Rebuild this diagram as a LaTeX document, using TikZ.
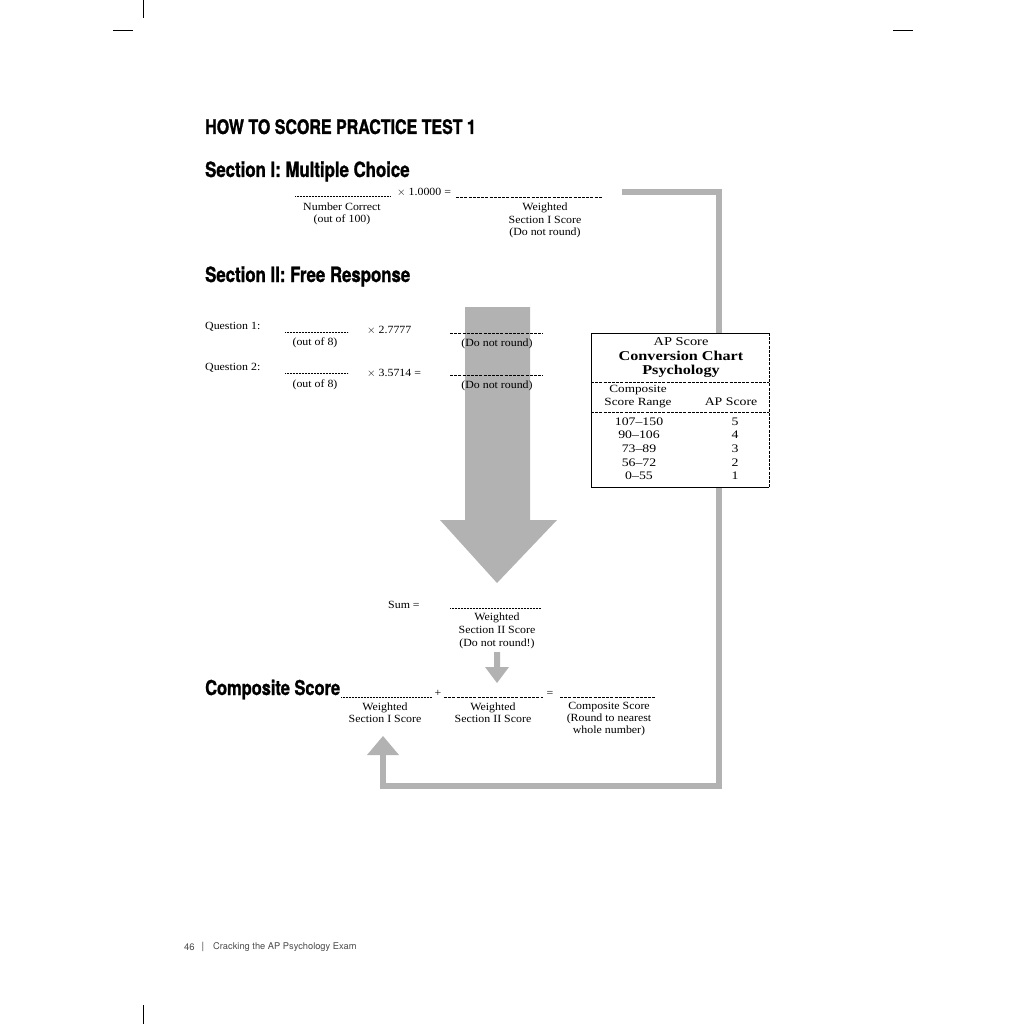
\documentclass[tikz,border=0pt]{standalone}
\usepackage{fontspec}
\setmainfont{Liberation Serif}[FakeStretch=1.08]
\newfontfamily\tablefont{Liberation Serif}[FakeStretch=1.2, Ligatures=TeX]
\newfontfamily\headfont{TeX Gyre Heros}[FakeStretch=0.80, FakeBold=1.2]
\newfontfamily\footfont{TeX Gyre Heros}
\begin{document}
\begin{tikzpicture}[x=1pt,y=-1pt,
  body/.style={font=\fontsize{11}{12}\selectfont, inner sep=0pt, align=center},
  bodyw/.style={body, anchor=west},
  tbody/.style={body, font=\tablefont\fontsize{11.5}{13.5}\selectfont},
  head/.style={font=\headfont\bfseries\fontsize{21}{24}\selectfont, inner sep=0pt, anchor=base west},
  leader/.style={line width=0.5pt, dash pattern=on 0.6pt off 0.9pt},
  blank/.style={line width=0.5pt, dash pattern=on 3pt off 1.2pt},
  crop/.style={line width=0.6pt}]
\useasboundingbox (0,0) rectangle (1024,1024);
\fill[white] (0,0) rectangle (1024,1024);

% crop marks
\draw[crop] (143,0) -- (143,18);
\draw[crop] (113,30) -- (133,30);
\draw[crop] (893,30) -- (913,30);
\draw[crop] (143,1005) -- (143,1024);

% headings
\node[head, font=\headfont\bfseries\fontsize{20}{24}\selectfont] (title) at (205,134) {HOW TO SCORE PRACTICE TEST 1};
\node[head] (sec1) at (205,177) {Section I: Multiple Choice};
\node[head] (sec2) at (205,282) {Section II: Free Response};
\node[head, font=\headfont\bfseries\fontsize{20.5}{24}\selectfont] (comp) at (205,695) {Composite Score};

% gray loop arrow (Section I score -> composite)
\coordinate (loopStart) at (622,192);
\coordinate (loopNE) at (719,192);
\coordinate (loopSE) at (719,786);
\coordinate (loopSW) at (383,786);
\coordinate (loopEnd) at (383,754);
\draw[line width=5.5pt, draw=black!30, line join=miter] (loopStart) -- (loopNE) -- (loopSE) -- (loopSW) -- (loopEnd);
\fill[black!30] (367,755) -- (399,755) -- (383,736) -- cycle;

% big down arrow
\fill[black!30] (465,307) -- (530,307) -- (530,520) -- (557,520) -- (497,583) -- (440,520) -- (465,520) -- cycle;

% small down arrow
\fill[black!30] (494,652) -- (500,652) -- (500,667) -- (509,667) -- (497,683) -- (485,667) -- (494,667) -- cycle;

% Section I
\coordinate (a1) at (295,196); \coordinate (a2) at (390,196);
\draw[leader] (a1) -- (a2);
\node[bodyw] (m1) at (397,192) {$\times$ 1.0000 =};
\coordinate (b1) at (456,197); \coordinate (b2) at (602,197);
\draw[blank] (b1) -- (b2);
\node[body] (nc) at (342,213.5) {Number Correct\\(out of 100)};
\node[body, font=\fontsize{11}{12.8}\selectfont] (w1) at (545,220.5) {Weighted\\Section I Score\\(Do not round)};

% Section II
\node[bodyw] (q1) at (205,327) {Question 1:};
\draw[leader] (285,332) -- (348,332);
\node[body] (o1) at (315,343) {(out of 8)};
\node[bodyw] (m2) at (367,330) {$\times$ 2.7777};
\draw[blank] (450,333) -- (543,333);
\node[body] (d1) at (497,344) {(Do not round)};

\node[bodyw] (q2) at (205,368) {Question 2:};
\draw[leader] (285,373) -- (348,373);
\node[body] (o2) at (315,385) {(out of 8)};
\node[bodyw] (m3) at (367,373) {$\times$ 3.5714 =};
\draw[blank] (450,375) -- (543,375);
\node[body] (d2) at (497,386) {(Do not round)};

\node[bodyw] (sum) at (388,605) {Sum =};
\draw[leader] (450,608) -- (541,608);
\node[body, font=\fontsize{11}{12.8}\selectfont] (w2) at (497,631) {Weighted\\Section II Score\\(Do not round!)};

% Composite
\draw[leader] (341,697) -- (432,697);
\node[body] (plus) at (438,693) {+};
\draw[blank] (444,697) -- (543,697);
\node[body] (eq) at (550,694) {=};
\draw[blank] (560,697) -- (656,697);
\node[body] (c1) at (385,713) {Weighted\\Section I Score};
\node[body] (c2) at (493,713) {Weighted\\Section II Score};
\node[body] (c3) at (609,719) {Composite Score\\(Round to nearest\\whole number)};

% Conversion table
\fill[white] (591,333) rectangle (769,487);
\draw[line width=0.6pt] (769,333) -- (591,333) -- (591,487) -- (769,487);
\draw[blank] (769,333) -- (769,487);
\draw[blank] (591,382) -- (769,382);
\draw[blank] (591,412) -- (769,412);
\node[tbody, font=\tablefont\fontsize{12}{13}\selectfont] (t1) at (681,342) {AP Score};
\node[tbody, font=\tablefont\bfseries\fontsize{13.5}{14}\selectfont] (t2) at (681,356) {Conversion Chart};
\node[tbody, font=\tablefont\bfseries\fontsize{13.5}{14}\selectfont] (t3) at (681,371) {Psychology};
\node[tbody, font=\tablefont\fontsize{11}{13}\selectfont] (h1) at (638,396.5) {Composite\\Score Range};
\node[tbody] (h2) at (731,402) {AP Score};
\node[tbody] (r1a) at (639,422) {107–150}; \node[tbody] (r1b) at (735,422) {5};
\node[tbody] (r2a) at (639,435) {90–106};  \node[tbody] (r2b) at (735,435) {4};
\node[tbody] (r3a) at (639,449) {73–89};   \node[tbody] (r3b) at (735,449) {3};
\node[tbody] (r4a) at (639,463) {56–72};   \node[tbody] (r4b) at (735,463) {2};
\node[tbody] (r5a) at (639,476) {0–55};    \node[tbody] (r5b) at (735,476) {1};

% footer
\node[inner sep=0pt, anchor=west, text=black!70, font=\footfont\fontsize{9.5}{10}\selectfont] (pg) at (184,947) {46};
\node[inner sep=0pt, text=black!70, font=\footfont\fontsize{10}{10}\selectfont] (bar) at (203,947) {|};
\node[inner sep=0pt, anchor=west, text=black!70, font=\footfont\fontsize{9.3}{10}\selectfont] (ft) at (213,947) {Cracking the AP Psychology Exam};
\end{tikzpicture}
\end{document}
